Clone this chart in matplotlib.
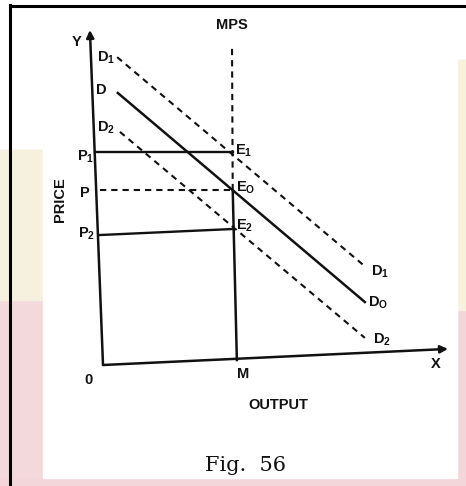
import matplotlib.pyplot as plt
from matplotlib.patches import Rectangle

plt.rcParams['mathtext.fontset'] = 'custom'
plt.rcParams['mathtext.bf'] = 'Liberation Sans:bold'
plt.rcParams['mathtext.rm'] = 'Liberation Sans:bold'
plt.rcParams['mathtext.default'] = 'bf'

# demand curves (output, price)
d1_q = [0.41, 7.54]
d1_p = [9.19, 2.99]
d0_q = [0.43, 7.59]
d0_p = [8.12, 1.88]
d2_q = [0.49, 7.59]
d2_p = [6.96, 0.81]

# equilibrium output M and prices P1, P, P2
m_q = [3.88, 3.76]
m_p = [0.15, 5.22]
mps_q = [3.76, 3.74]
mps_p = [5.22, 9.46]
p1 = 6.36
p0 = 5.22
p2_left, p2_right = 3.88, 4.06
e_q = 3.76

# axes ends (the scan is slightly tilted)
yaxis_q = [0.0, -0.38]
yaxis_p = [0.0, 10.0]
xaxis_q = [0.0, 10.0]
xaxis_p = [0.0, 0.48]

fig = plt.figure(figsize=(4.66, 4.86), dpi=100)
fig.patch.set_facecolor('white')

# page background / frame in pixel units
bg = fig.add_axes([0, 0, 1, 1])
bg.set_xlim(0, 466)
bg.set_ylim(486, 0)
bg.axis('off')
bg.add_patch(Rectangle((0, 150), 43, 336, color='#f3d9dc', zorder=0))
bg.add_patch(Rectangle((0, 150), 43, 150, color='#f6f1de', zorder=0))
bg.add_patch(Rectangle((457, 60), 9, 426, color='#f3d6da', zorder=0))
bg.add_patch(Rectangle((457, 60), 9, 250, color='#f6f2dc', zorder=0))
bg.add_patch(Rectangle((0, 478), 466, 8, color='#f3d6da', zorder=0))
bg.add_patch(Rectangle((43, 6), 414, 472, color='white', zorder=1))
bg.plot([10, 10], [5, 486], color='black', lw=2.2, zorder=2)
bg.plot([10, 466], [6, 6], color='black', lw=2.2, zorder=2)

ax = fig.add_axes([0, 0, 1, 1])
ax.set_xlim(-2.986, 10.522)
ax.set_ylim(-3.612, 10.896)
ax.axis('off')
ax.patch.set_alpha(0)

k = '#111111'
dash = (0, (3.0, 2.4))

# axes with arrows
ax.annotate('', xy=(yaxis_q[1], yaxis_p[1]), xytext=(yaxis_q[0], yaxis_p[0]),
            arrowprops=dict(arrowstyle='-|>', lw=1.8, color=k, mutation_scale=11,
                            shrinkA=0, shrinkB=0))
ax.annotate('', xy=(xaxis_q[1], xaxis_p[1]), xytext=(xaxis_q[0], xaxis_p[0]),
            arrowprops=dict(arrowstyle='-|>', lw=1.8, color=k, mutation_scale=11,
                            shrinkA=0, shrinkB=0))

# demand curves
ax.plot(d1_q, d1_p, color=k, lw=1.5, linestyle=dash)
ax.plot(d0_q, d0_p, color=k, lw=1.8)
ax.plot(d2_q, d2_p, color=k, lw=1.5, linestyle=dash)

# MPS vertical and M line
ax.plot(mps_q, mps_p, color=k, lw=1.5, linestyle=dash)
ax.plot(m_q, m_p, color=k, lw=1.8)

# price lines
ax.plot([-0.23, e_q], [p1, p1], color=k, lw=1.7)
ax.plot([-0.09, e_q], [p0, p0], color=k, lw=1.5, linestyle=dash)
ax.plot([-0.09, e_q], [p2_left, p2_right], color=k, lw=1.7)

lab = dict(color=k, fontweight='bold', family='Liberation Sans', fontsize=10.5)
ax.text(-0.78, 9.64, 'Y', ha='center', va='center', **lab)
ax.text(9.65, 0.02, 'X', ha='center', va='center', **lab)
ax.text(-0.43, -0.45, '0', ha='center', va='center', **lab)
ax.text(4.06, -0.27, 'M', ha='center', va='center', **lab)
ax.text(3.74, 10.15, 'MPS', ha='center', va='center', **lab)
ax.text(5.07, -1.19, 'OUTPUT', ha='center', va='center', **lab)
ax.text(-1.25, 4.93, 'PRICE', ha='center', va='center', rotation=90, **lab)

ax.text(-0.17, 9.16, 'D$_1$', ha='left', va='center', **lab)
ax.text(-0.2, 8.21, 'D', ha='left', va='center', **lab)
ax.text(-0.17, 7.07, 'D$_2$', ha='left', va='center', **lab)
ax.text(7.77, 2.78, 'D$_1$', ha='left', va='center', **lab)
ax.text(7.68, 1.85, 'D$_O$', ha='left', va='center', **lab)
ax.text(7.84, 0.75, 'D$_2$', ha='left', va='center', **lab)

ax.text(-0.5, 6.21, 'P$_1$', ha='center', va='center', **lab)
ax.text(-0.52, 5.13, 'P', ha='center', va='center', **lab)
ax.text(-0.48, 3.91, 'P$_2$', ha='center', va='center', **lab)

ax.text(3.82, 6.4, 'E$_1$', ha='left', va='center', **lab)
ax.text(3.85, 5.3, 'E$_O$', ha='left', va='center', **lab)
ax.text(3.85, 4.15, 'E$_2$', ha='left', va='center', **lab)

ax.text(4.14, -2.99, 'Fig.  56', ha='center', va='center', color=k,
        family='DejaVu Serif', fontsize=15)

fig.savefig('out.png', dpi=100)
